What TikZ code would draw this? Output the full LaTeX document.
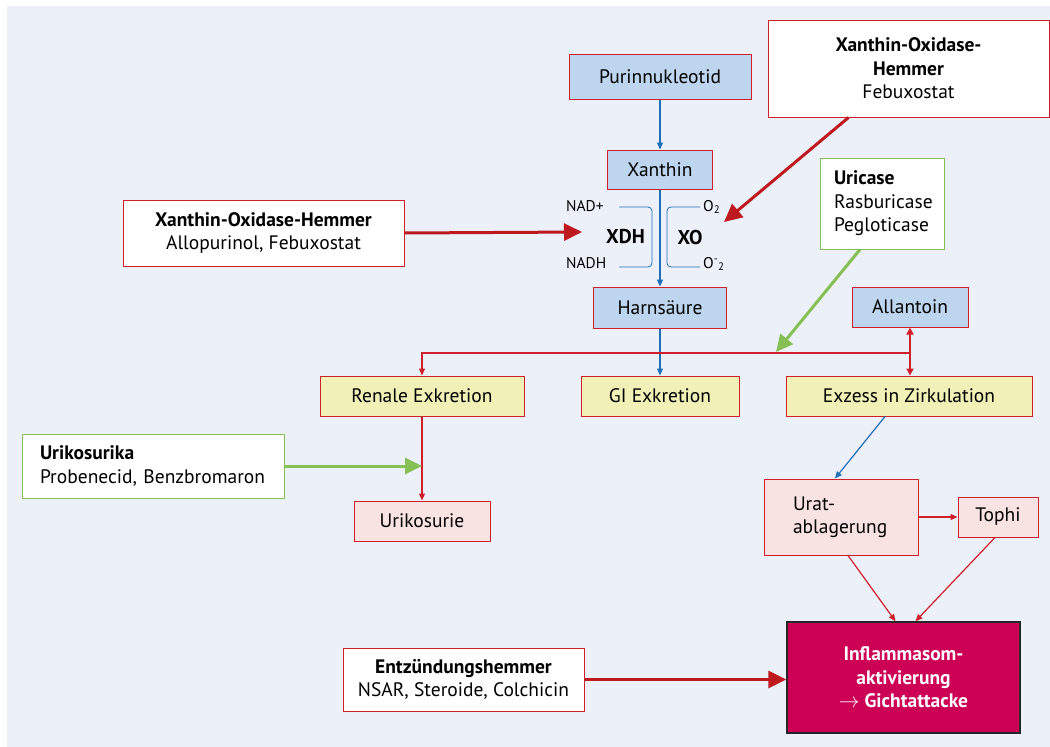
\documentclass[tikz,border=0pt]{standalone}
\usepackage{fontspec}
\setmainfont{PT Sans}
\usetikzlibrary{arrows.meta, calc, positioning}
\definecolor{bgblue}{RGB}{236,240,249}
\definecolor{boxblue}{RGB}{189,213,238}
\definecolor{boxyellow}{RGB}{241,240,183}
\definecolor{boxpink}{RGB}{249,226,226}
\definecolor{linered}{RGB}{205,32,42}
\definecolor{arrowred}{RGB}{190,25,30}
\definecolor{lineblue}{RGB}{30,110,185}
\definecolor{linegreen}{RGB}{134,192,84}
\definecolor{gichtred}{RGB}{204,0,85}

\begin{document}
\begin{tikzpicture}[x=1pt, y=-1pt,
    font=\fontsize{19.5}{23.5}\selectfont,
    box/.style={rectangle, draw=linered, line width=1pt, inner sep=0pt, align=center},
    bluebox/.style={box, fill=boxblue},
    yellowbox/.style={box, fill=boxyellow},
    pinkbox/.style={box, fill=boxpink},
    drugbox/.style={box, fill=white},
    greenbox/.style={box, draw=linegreen, fill=white, align=left},
    smalllabel/.style={font=\fontsize{15.5}{17}\selectfont, inner sep=0pt},
    thinblue/.style={-{Triangle[length=7pt, width=6pt]}, lineblue, line width=1.2pt},
    thinred/.style={-{Triangle[length=7pt, width=6pt]}, linered, line width=1.2pt},
    thickred/.style={-{Triangle[length=18pt, width=17pt]}, arrowred, line width=3pt},
    thickgreen/.style={-{Triangle[length=17pt, width=16pt]}, linegreen, line width=3pt},
]
    \useasboundingbox (0,0) rectangle (1050,747);
    \fill[bgblue] (7,6) rectangle (1050,747);

    % Stoffwechselweg
    \node[bluebox, minimum width=182pt, minimum height=45pt] (purin) at (660,76.5) {Purinnukleotid};
    \node[bluebox, minimum width=105pt, minimum height=39pt] (xanthin) at (660,169.5) {Xanthin};
    \node[bluebox, minimum width=133pt, minimum height=41pt] (harn) at (660,307.5) {Harnsäure};
    \node[bluebox, minimum width=116pt, minimum height=40pt] (allantoin) at (910,307) {Allantoin};

    % Enzyme
    \draw[lineblue, line width=0.8pt, rounded corners=4pt] (619,207) -- (652,207) -- (652,267) -- (619,267);
    \draw[lineblue, line width=0.8pt, rounded corners=4pt] (700,207) -- (667,207) -- (667,267) -- (700,267);
    \node[smalllabel, anchor=west] (nad) at (566,206) {NAD+};
    \node[smalllabel, anchor=west] (nadh) at (566,263) {NADH};
    \node[smalllabel, anchor=west] (otwo) at (703,207) {O\textsubscript{2}};
    \node[smalllabel, anchor=west] (ominus) at (703,264) {O\textsuperscript{-}\textsubscript{2}};
    \node[font=\fontsize{20}{22}\selectfont\bfseries] (xdh) at (625.5,237) {XDH};
    \node[font=\fontsize{20}{22}\selectfont\bfseries] (xo) at (690,237) {XO};

    % Ausscheidung
    \node[yellowbox, minimum width=204pt, minimum height=40pt] (renal) at (422,396) {Renale Exkretion};
    \node[yellowbox, minimum width=158pt, minimum height=40pt] (gi) at (660,396) {GI Exkretion};
    \node[yellowbox, minimum width=246pt, minimum height=40pt] (exzess) at (909,396) {Exzess in Zirkulation};
    \node[pinkbox, minimum width=136pt, minimum height=40pt] (urikosurie) at (422,521) {Urikosurie};
    \node[pinkbox, minimum height=76pt, text width=96pt, inner xsep=29pt, align=left] (urat) at (841,517) {Urat-\\ablagerung};
    \node[pinkbox, minimum width=80pt, minimum height=40pt] (tophi) at (998,517) {Tophi};
    \node[box, fill=gichtred, draw=black!85, line width=1.5pt, text=white, font=\fontsize{19.5}{23.5}\selectfont\bfseries,
        minimum width=233pt, minimum height=111pt] (inflamm) at (903.5,677.5) {Inflammasom-\\aktivierung\\$\rightarrow$ Gichtattacke};

    % Medikamente
    \node[drugbox, minimum width=281pt, minimum height=66pt] (xohleft) at (263.5,233)
        {\textbf{Xanthin-Oxidase-Hemmer}\\Allopurinol, Febuxostat};
    \node[drugbox, minimum width=281pt, minimum height=97pt] (xohtop) at (908.5,68.5)
        {\textbf{Xanthin-Oxidase-}\\\textbf{Hemmer}\\Febuxostat};
    \node[greenbox, minimum height=91pt, text width=96pt, inner xsep=14pt] (uricase) at (882,203.5)
        {\textbf{Uricase}\\Rasburicase\\Pegloticase};
    \node[greenbox, minimum height=64pt, text width=226pt, inner xsep=18pt] (urikosurika) at (153,466)
        {\textbf{Urikosurika}\\Probenecid, Benzbromaron};
    \node[drugbox, minimum width=241pt, minimum height=63pt] (entz) at (463.5,679.5)
        {\textbf{Entzündungshemmer}\\NSAR, Steroide, Colchicin};

    \coordinate (split) at (910,353);
    \coordinate (uricasetip) at (776,352);
    \coordinate (xdhtip) at (582,232);
    \coordinate (xotip) at (724,222);

    % Pfeile
    \draw[thinblue] (purin) -- (xanthin);
    \draw[thinblue] (xanthin) -- (harn);
    \draw[thinblue] (harn) -- (gi);
    \draw[thinred] (split) -| (renal.north);
    \draw[{Triangle[length=7pt, width=7pt]}-{Triangle[length=7pt, width=7pt]}, linered, line width=2pt]
        (allantoin.south) -- (allantoin.south |- exzess.north);
    \draw[thickgreen] ([xshift=-22pt]uricase.south) -- (uricasetip);
    \draw[thickred] (xohleft.east) -- (xdhtip);
    \draw[thickred] ([xshift=-60pt]xohtop.south) -- (xotip);
    \draw[thinred] (renal) -- (urikosurie);
    \draw[thickgreen] (urikosurika.east) -- (urikosurika.east -| renal.south);
    \draw[thinblue] ([xshift=-24pt]exzess.south) -- ([xshift=-6pt]urat.north);
    \draw[thinred] (urat) -- (tophi);
    \draw[thinred] ([xshift=7pt]urat.south) -- ([xshift=-8pt]inflamm.north);
    \draw[thinred] ([xshift=-3pt]tophi.south) -- ([xshift=12pt]inflamm.north);
    \draw[thickred] (entz.east) -- (entz.east -| inflamm.west);
\end{tikzpicture}
\end{document}
